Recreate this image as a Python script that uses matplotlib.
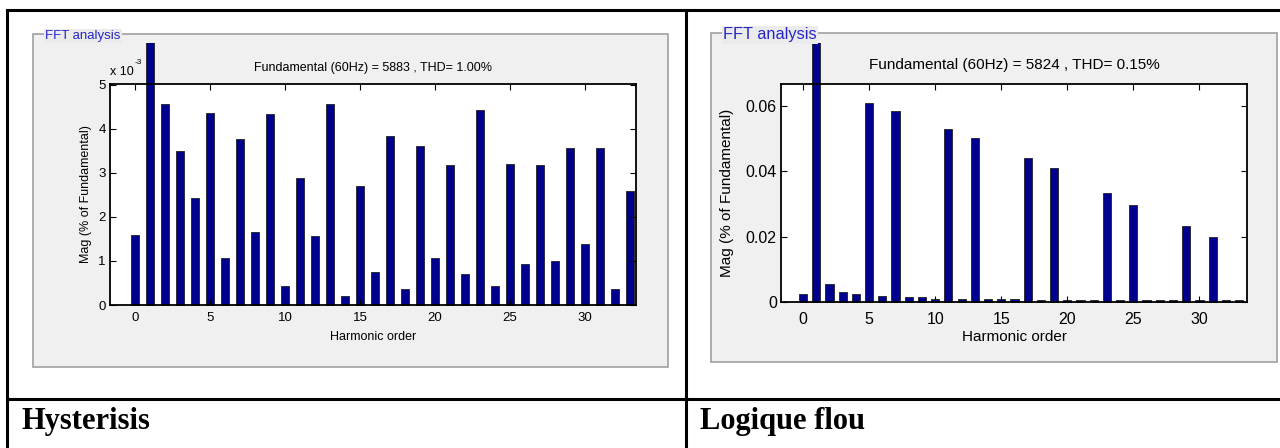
import matplotlib
matplotlib.use("Agg")
import matplotlib.pyplot as plt
from matplotlib import font_manager
from matplotlib.patches import Rectangle
from matplotlib.lines import Line2D
from matplotlib.transforms import Bbox, TransformedBbox

# Harmonic orders shown on both spectra
harmonics = list(range(0, 34))

# Hysteresis controller: magnitudes in units of 1e-3 (% of fundamental), h=1 is the fundamental
hyst_mag_e3 = [1.6, 100000, 4.57, 3.5, 2.44, 4.37, 1.07, 3.78, 1.66, 4.33,
               0.43, 2.89, 1.57, 4.56, 0.2, 2.71, 0.75, 3.83, 0.36, 3.62,
               1.07, 3.17, 0.7, 4.43, 0.43, 3.2, 0.93, 3.19, 1.0, 3.57,
               1.39, 3.57, 0.36, 2.6]

# Fuzzy logic controller: magnitudes (% of fundamental)
fuzzy_mag = [0.0024, 100, 0.0055, 0.003, 0.0024, 0.0609, 0.0018, 0.0585, 0.0015, 0.0015,
             0.001, 0.053, 0.001, 0.0502, 0.0008, 0.0008, 0.0008, 0.0441, 0.0005, 0.041,
             0.0005, 0.0005, 0.0005, 0.0334, 0.0006, 0.0297, 0.0005, 0.0005, 0.0005, 0.0233,
             0.0005, 0.0199, 0.0005, 0.0005]

hyst_title = "Fundamental (60Hz) = 5883 , THD= 1.00%"
fuzzy_title = "Fundamental (60Hz) = 5824 , THD= 0.15%"
hyst_yticks = [0, 1, 2, 3, 4, 5]
fuzzy_yticks = [0, 0.02, 0.04, 0.06]
xticks = [0, 5, 10, 15, 20, 25, 30]
captions = ["Hysterisis", "Logique flou"]

W, H = 1280, 448
BAR_COLOR = "#00008F"
PANEL_BG = "#F0F0F0"

names = {f.name for f in font_manager.fontManager.ttflist}
narrow = "Liberation Sans Narrow" in names
left_font = ["Liberation Sans Narrow", "Liberation Sans"] if narrow else ["Liberation Sans"]
left_size = 10.5 if narrow else 9.0
right_font = ["Liberation Sans"]
right_size = 11


def rect(x0, y0, x1, y1):
    return [x0 / W, 1 - y1 / H, (x1 - x0) / W, (y1 - y0) / H]


fig = plt.figure(figsize=(12.8, 4.48), dpi=100)
fig.patch.set_facecolor("white")

# table lines
lw = 2.2
for (x0, y0, x1, y1) in [(7, 10, 1280, 10), (7, 10, 7, 448), (686, 10, 686, 448), (7, 399, 1280, 399)]:
    fig.add_artist(Line2D([x0 / W, x1 / W], [1 - y0 / H, 1 - y1 / H],
                          color="black", lw=lw, transform=fig.transFigure))

# captions
fig.text(22 / W, 1 - 421 / H, captions[0], family="Liberation Serif", fontweight="bold",
         fontsize=22, va="center", ha="left")
fig.text(700 / W, 1 - 421 / H, captions[1], family="Liberation Serif", fontweight="bold",
         fontsize=22, va="center", ha="left")


def panel(box, clip_top, axbox, values, yticks, ylim, xlim, title, title_y, font, size,
          xlabel_y, ylabel_x, xpad, exp_label, fft_size):
    x0, y0, x1, y1 = box
    fig.add_artist(Rectangle((x0 / W, 1 - y1 / H), (x1 - x0) / W, (y1 - y0) / H,
                             transform=fig.transFigure, facecolor=PANEL_BG,
                             edgecolor="#A0A0A0", lw=1.2, zorder=0))
    fig.text((x0 + 12) / W, 1 - (y0 + 2) / H, "FFT analysis", family=font, fontsize=fft_size,
             color="#2626C8", va="center", ha="left", zorder=2,
             bbox=dict(facecolor="#EBEBEB", edgecolor="none", pad=1.0))

    ax = fig.add_axes(rect(*axbox))
    ax.set_facecolor("white")
    width = 0.55 if exp_label else 0.62
    bars = ax.bar(harmonics, values, width=width, color=BAR_COLOR, edgecolor="#202020", linewidth=0.6)
    clip = TransformedBbox(Bbox([[x0 / W, 1 - y1 / H], [x1 / W, 1 - clip_top / H]]), fig.transFigure)
    for b in bars:
        b.set_clip_path(None)
        b.set_clip_box(clip)
    ax.set_xlim(*xlim)
    ax.set_ylim(*ylim)
    ax.set_xticks(xticks)
    ax.set_yticks(yticks)
    ax.set_yticklabels([f"{t:g}" for t in yticks])
    ax.tick_params(direction="in", top=True, right=True, length=4, width=0.8,
                   labelsize=size + 0.5, pad=xpad)
    ax.tick_params(axis="y", pad=3)
    for lab in ax.get_xticklabels() + ax.get_yticklabels():
        lab.set_family(font)
    for s in ax.spines.values():
        s.set_linewidth(1.3)
    cx = (axbox[0] + axbox[2]) / 2
    fig.text(cx / W, 1 - title_y / H, title, family=font, fontsize=size, ha="center", va="center")
    fig.text(cx / W, 1 - xlabel_y / H, "Harmonic order", family=font, fontsize=size,
             ha="center", va="center")
    cy = (axbox[1] + axbox[3]) / 2
    fig.text(ylabel_x / W, 1 - cy / H, "Mag (% of Fundamental)", family=font, fontsize=size,
             rotation=90, ha="center", va="center")
    if exp_label:
        fig.text(axbox[0] / W, 1 - 72 / H, "x 10", family=font, fontsize=size, ha="left", va="center")
        fig.text((axbox[0] + 25) / W, 1 - 63 / H, "-3", family=font, fontsize=size - 3,
                 ha="left", va="center")
    return ax


panel((33, 34, 668, 367), 43, (110, 84, 636, 305), hyst_mag_e3, hyst_yticks, (0, 5.02),
      (-1.67, 33.4), hyst_title, 68, left_font, left_size, 337, 86, 5, True, 9.5)
panel((711, 33, 1277, 362), 43, (781, 84, 1247, 302), fuzzy_mag, fuzzy_yticks, (0, 0.0668),
      (-1.67, 33.6), fuzzy_title, 65, right_font, right_size, 337, 727, 7, False, 11.8)

fig.savefig("out.png", dpi=100)
